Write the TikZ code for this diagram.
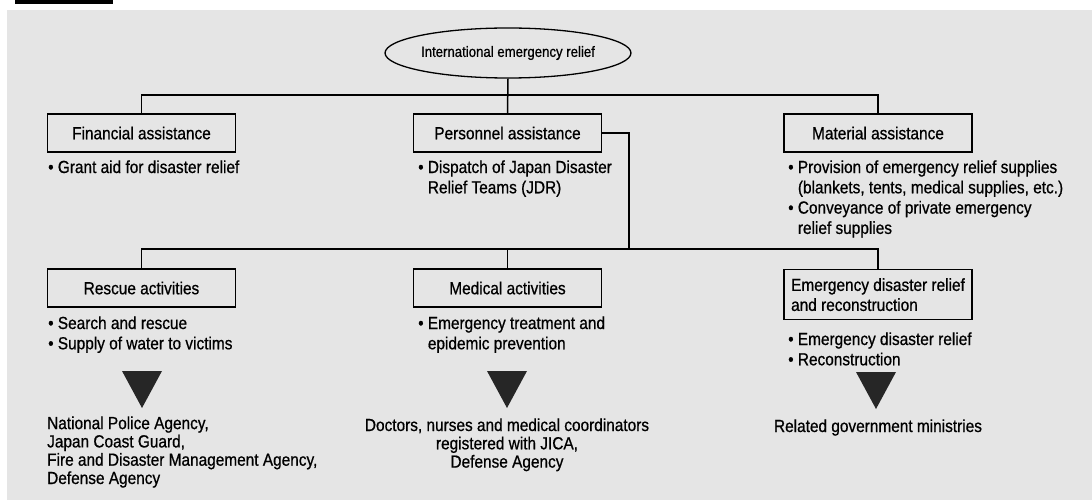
\documentclass[tikz,border=0pt]{standalone}
\usepackage{fontspec}
\setmainfont{Liberation Sans}[FakeStretch=0.88,FakeBold=0.7]
\usetikzlibrary{shapes.geometric}
\begin{document}
\begin{tikzpicture}[x=1pt,y=-1pt,
  conn/.style={line width=1.5pt},
  box/.style={draw, line width=1.3pt, minimum width=188pt, minimum height=38pt, inner sep=0pt, font=\fontsize{17.5}{20}\selectfont},
  txt/.style={anchor=base west, inner sep=0pt, align=left, font=\fontsize{17.5}{20.3}\selectfont},
  agency/.style={anchor=base, inner sep=0pt, font=\fontsize{17.5}{18.3}\selectfont},
  tri/.style={fill=black!85}]
\useasboundingbox (0,0) rectangle (1092,500);
\fill[black!10] (7,10) rectangle (1092,500);
\fill[black] (15,0) rectangle (113,4);

% top
\node[draw, ellipse, line width=1.3pt, minimum width=238pt, minimum height=50pt, inner sep=0pt,
      font=\fontsize{15}{18}\selectfont] (top) at (508,53) {International emergency relief};

\node[box] (fin) at (141.5,133) {Financial assistance};
\node[box] (pers) at (507.5,133) {Personnel assistance};
\node[box] (mat) at (878,133) {Material assistance};

\coordinate (j1) at (508,95);
\coordinate (j2) at (629,249);

\draw[conn] (top.south) -- (pers.north);
\draw[conn] (fin.north) |- (j1) -| (mat.north);
\draw[conn] (pers.east) -| (j2);

% (base anchor = baseline of the last line)
\node[txt] (fintxt) at (48,173) {\textbullet\ Grant aid for disaster relief};
\node[txt] (perstxt) at (418,193.3) {\textbullet\ Dispatch of Japan Disaster\\\phantom{\textbullet\ }Relief Teams (JDR)};
\node[txt] (mattxt) at (788,233.9) {\textbullet\ Provision of emergency relief supplies\\\phantom{\textbullet\ }(blankets, tents, medical supplies, etc.)\\\textbullet\ Conveyance of private emergency\\\phantom{\textbullet\ }relief supplies};

% second level
\node[box] (res) at (141.5,288) {Rescue activities};
\node[box] (med) at (507.5,288) {Medical activities};
\node[box, minimum height=50pt, align=left, anchor=north] (emg) at (878,269) {Emergency disaster relief\\and reconstruction};

\draw[conn] (res.north) |- (j2) -| (emg.north);
\draw[conn] (med.north) -- (med.north |- j2);

\node[txt] (restxt) at (48,349.3) {\textbullet\ Search and rescue\\\textbullet\ Supply of water to victims};
\node[txt] (medtxt) at (418,349.3) {\textbullet\ Emergency treatment and\\\phantom{\textbullet\ }epidemic prevention};
\node[txt] (emgtxt) at (788,365.3) {\textbullet\ Emergency disaster relief\\\textbullet\ Reconstruction};

% triangles
\fill[tri] (122,371) -- (162,371) -- (142,408) -- cycle;
\fill[tri] (487,371) -- (527,371) -- (507,408) -- cycle;
\fill[tri] (856,372) -- (896,372) -- (876,409) -- cycle;

% agencies
\node[agency, anchor=base west, align=left] (resag) at (47,484)
  {National Police Agency,\\Japan Coast Guard,\\Fire and Disaster Management Agency,\\Defense Agency};
\node[agency, align=center] (medag) at (507,467.6)
  {Doctors, nurses and medical coordinators\\registered with JICA,\\Defense Agency};
\node[agency] (emgag) at (878,432) {Related government ministries};
\end{tikzpicture}
\end{document}
